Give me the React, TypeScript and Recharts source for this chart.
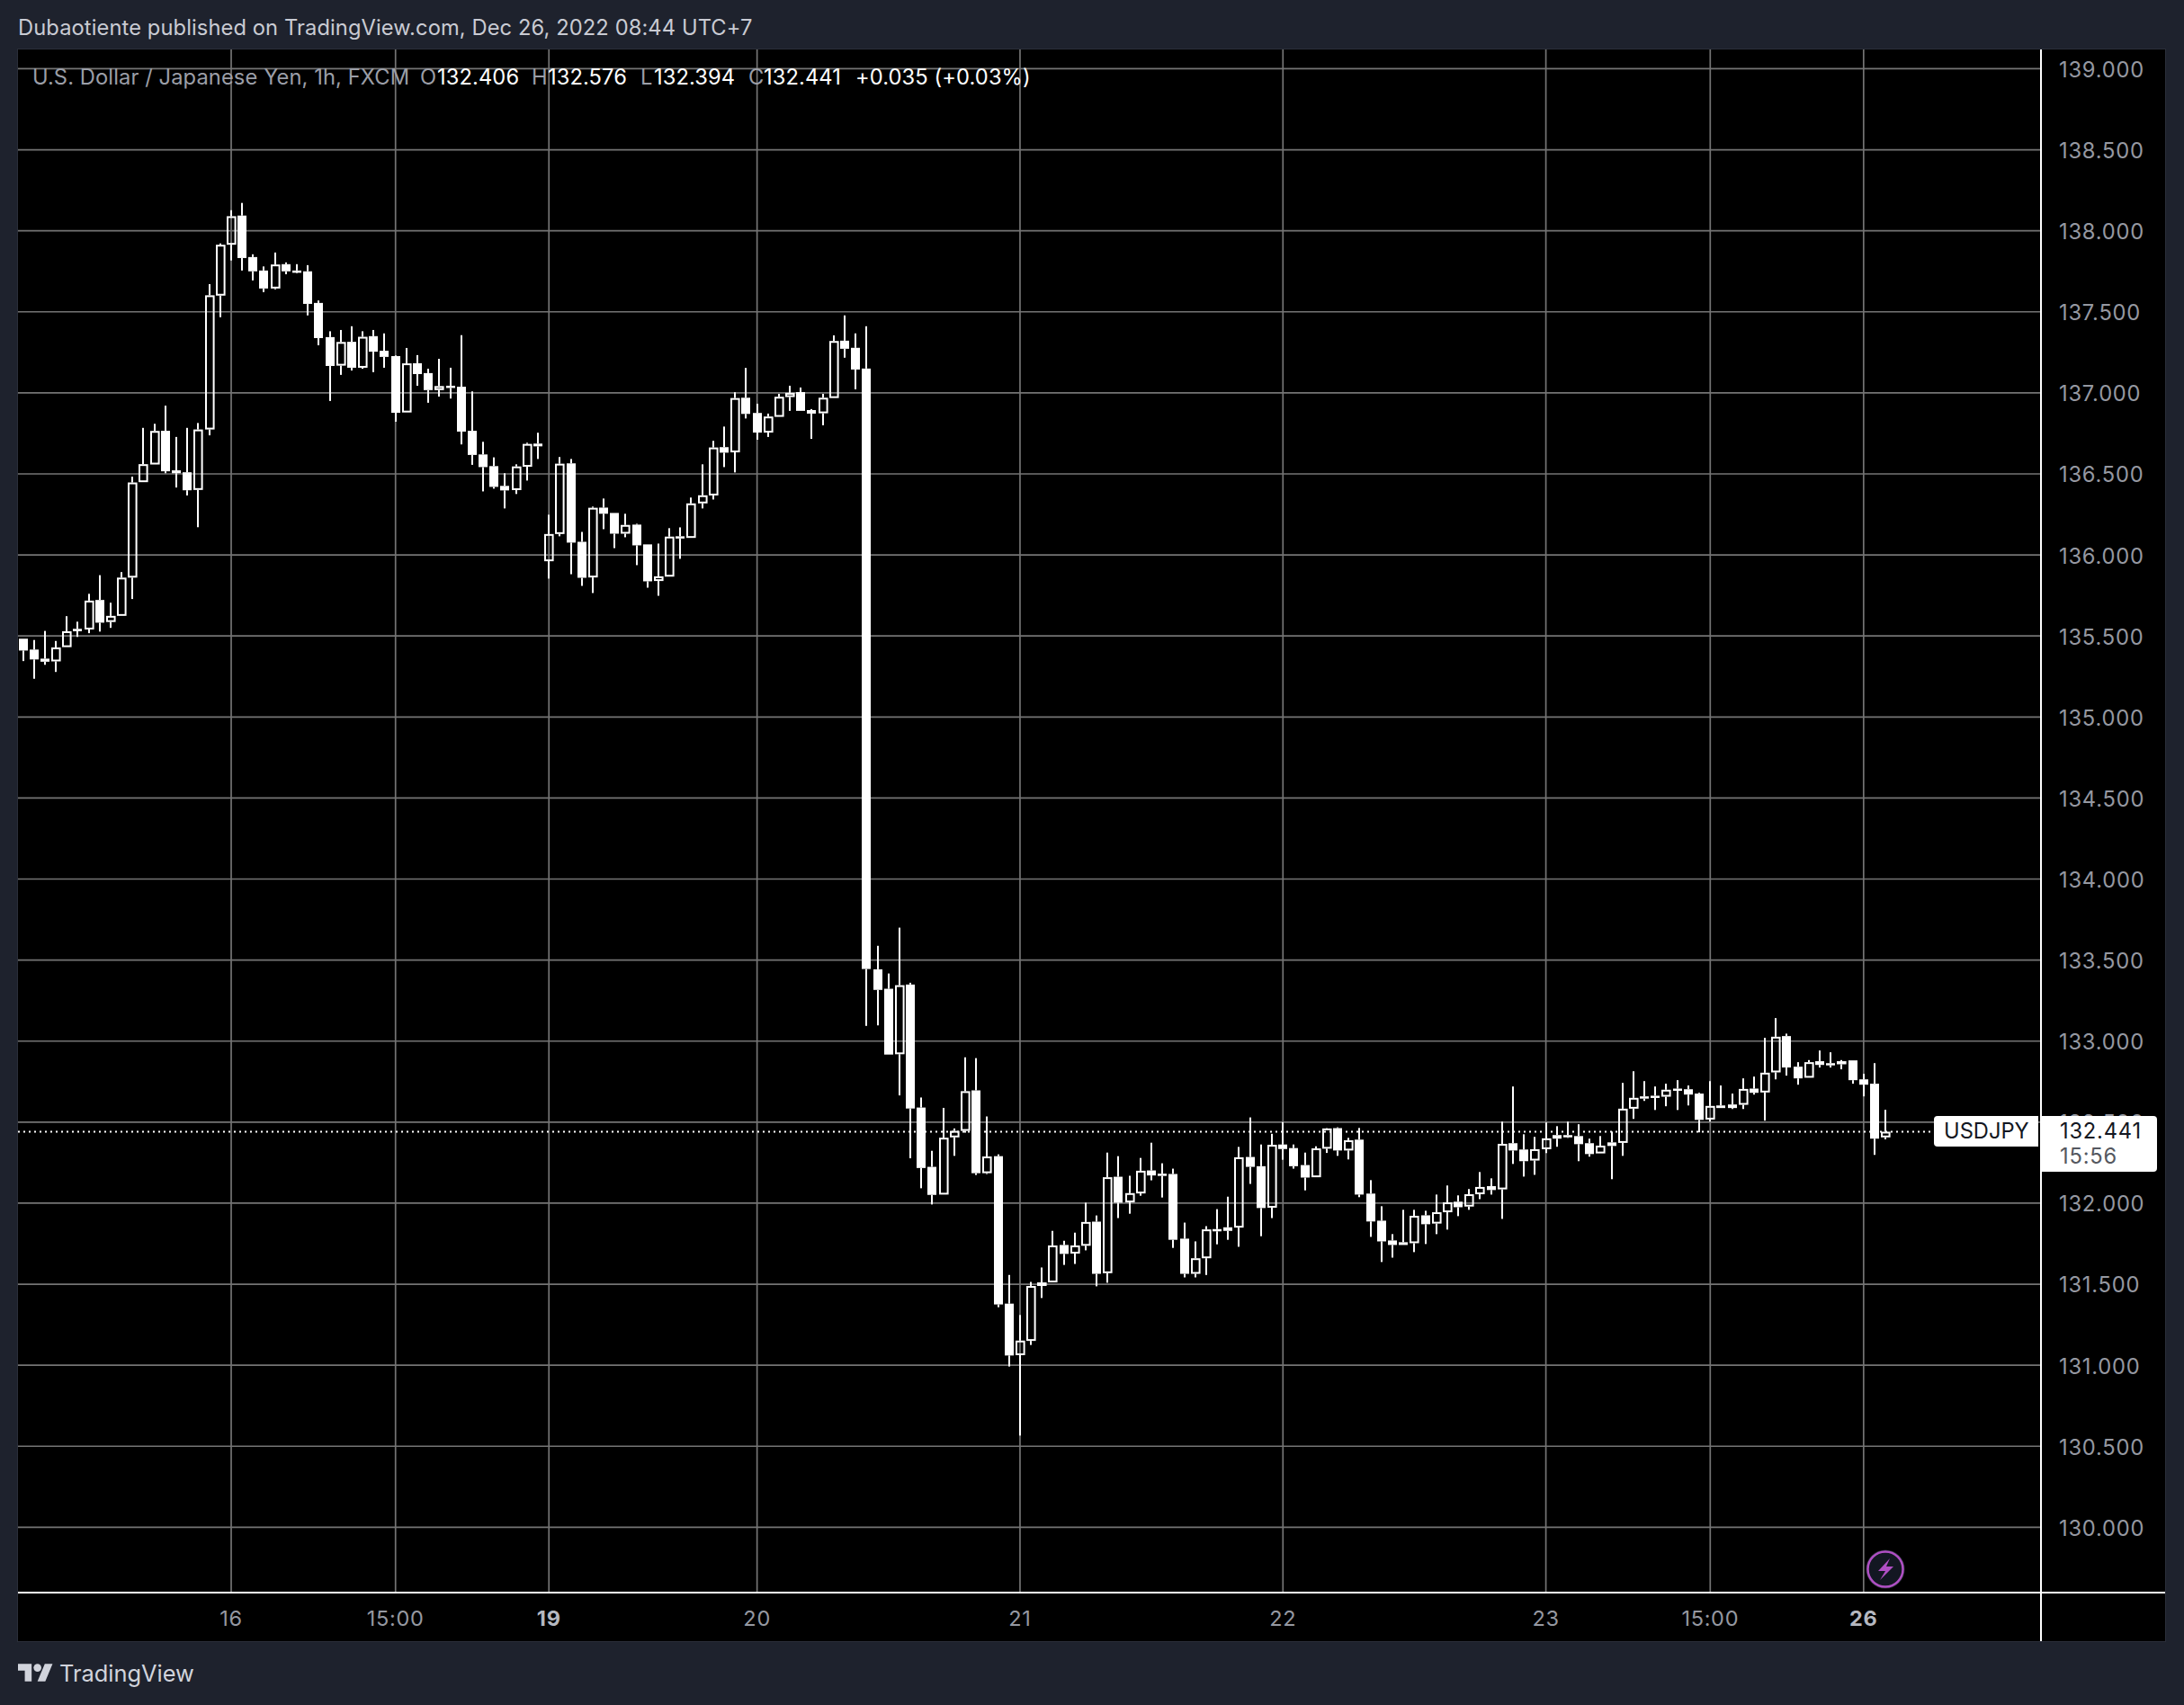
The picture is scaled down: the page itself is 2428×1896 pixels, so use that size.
import React from 'react';
import { ComposedChart, Bar, XAxis, YAxis, CartesianGrid, ReferenceLine } from 'recharts';

const opens = [
135.483,135.416,135.360,135.343,135.431,135.544,135.540,135.722,135.586,135.624,
135.860,136.449,136.558,136.766,136.522,136.510,136.401,136.774,137.600,137.914,
138.094,137.838,137.755,137.644,137.794,137.755,137.750,137.555,137.344,137.168,
137.315,137.155,137.350,137.260,137.227,136.879,137.183,137.122,137.017,137.044,
137.038,136.766,136.620,136.548,136.426,136.400,136.544,136.687,135.961,136.129,
136.565,136.081,135.861,136.292,136.259,136.131,136.187,136.065,135.839,135.866,
136.115,136.105,136.318,136.367,136.665,136.633,136.970,136.876,136.755,136.852,
136.974,137.005,136.894,136.874,136.968,137.322,137.278,137.150,133.443,133.323,
132.919,133.349,132.590,132.224,132.053,132.406,132.446,132.696,132.185,132.290,
131.380,131.062,131.150,131.489,131.511,131.742,131.689,131.737,131.886,131.568,
132.163,132.005,132.060,132.202,132.182,132.180,131.781,131.564,131.660,131.840,
131.851,131.849,132.285,132.228,131.972,132.362,132.340,132.235,132.160,132.336,
132.463,132.325,132.392,132.059,131.892,131.770,131.759,131.753,131.925,131.874,
131.944,132.009,131.979,132.055,132.105,132.085,132.370,132.331,132.263,132.333,
132.420,132.420,132.414,132.370,132.307,132.375,132.372,132.583,132.659,132.663,
132.657,132.707,132.703,132.676,132.516,132.603,132.609,132.607,132.707,132.683,
132.807,133.031,132.842,132.774,132.876,132.864,132.857,132.881,132.764,132.737,132.406];

const closes = [
135.410,135.355,135.341,135.429,135.529,135.529,135.718,135.582,135.624,135.860,
136.447,136.560,136.765,136.516,136.504,136.399,136.774,137.602,137.914,138.090,
137.832,137.750,137.644,137.792,137.750,137.744,137.549,137.338,137.166,137.314,
137.155,137.346,137.254,137.222,136.877,137.182,137.116,137.017,137.042,137.034,
136.761,136.617,136.542,136.420,136.398,136.546,136.685,136.670,136.129,136.563,
136.076,135.859,136.291,136.254,136.131,136.185,136.059,135.837,135.868,136.113,
136.104,136.318,136.368,136.663,136.631,136.968,136.870,136.755,136.854,136.976,
137.000,136.889,136.872,136.970,137.320,137.272,137.144,133.445,133.316,132.917,
133.345,132.584,132.217,132.051,132.404,132.446,132.691,132.185,132.288,131.375,
131.060,131.152,131.489,131.511,131.739,131.687,131.739,131.884,131.564,132.160,
132.003,132.062,132.200,132.171,132.171,131.774,131.564,131.660,131.838,131.829,
131.829,132.283,132.224,131.970,132.360,132.334,132.228,132.158,132.338,132.461,
132.325,132.388,132.053,131.887,131.764,131.742,131.742,131.922,131.870,131.944,
132.005,131.975,132.055,132.100,132.081,132.366,132.325,132.259,132.333,132.400,
132.398,132.409,132.364,132.303,132.355,132.353,132.583,132.650,132.648,132.651,
132.700,132.696,132.670,132.514,132.600,132.587,132.587,132.705,132.681,132.805,
133.027,132.837,132.770,132.870,132.853,132.853,132.876,132.759,132.731,132.398,132.441];

const highs = [
135.483,135.475,135.531,135.469,135.622,135.588,135.760,135.875,135.705,135.894,
136.483,136.784,136.809,136.921,136.728,136.784,136.814,137.671,137.922,138.127,
138.172,137.855,137.780,137.866,137.805,137.794,137.788,137.570,137.380,137.388,
137.411,137.380,137.388,137.367,137.231,137.277,137.233,137.149,137.210,137.155,
137.356,137.009,136.698,136.602,136.504,136.559,136.692,136.754,136.248,136.604,
136.592,136.142,136.298,136.348,136.259,136.254,136.192,136.065,136.070,136.165,
136.170,136.354,136.559,136.704,136.792,137.004,137.154,136.933,136.872,136.994,
137.044,137.033,136.900,136.994,137.355,137.478,137.367,137.411,133.588,133.417,
133.700,133.360,132.652,132.323,132.588,132.461,132.900,132.895,132.535,132.301,
131.557,131.310,131.514,131.603,131.829,131.768,131.818,132.003,131.924,132.312,
132.290,132.169,132.279,132.373,132.246,132.213,131.880,131.764,131.858,131.963,
132.040,132.347,132.529,132.362,132.428,132.500,132.362,132.312,132.351,132.463,
132.468,132.403,132.464,132.142,131.981,131.809,131.959,131.959,131.953,132.053,
132.109,132.048,132.087,132.192,132.153,132.503,132.720,132.425,132.409,132.498,
132.475,132.503,132.487,132.398,132.414,132.442,132.742,132.814,132.753,132.720,
132.737,132.759,132.726,132.681,132.753,132.726,132.676,132.770,132.781,133.020,
133.142,133.046,132.870,132.883,132.942,132.931,132.883,132.881,132.798,132.864,132.576];

const lows = [
135.345,135.236,135.322,135.278,135.431,135.494,135.517,135.527,135.550,135.624,
135.728,136.449,136.558,136.504,136.416,136.367,136.171,136.738,137.467,137.817,
137.755,137.694,137.622,137.639,137.732,137.738,137.478,137.294,136.950,137.111,
137.138,137.149,137.128,137.155,136.822,136.879,137.044,136.939,136.977,136.965,
136.682,136.556,136.392,136.409,136.287,136.376,136.459,136.592,135.854,136.115,
135.881,135.809,135.765,136.159,136.042,136.109,135.937,135.798,135.748,135.866,
135.976,136.105,136.287,136.342,136.542,136.509,136.842,136.711,136.728,136.852,
136.889,136.889,136.716,136.800,136.968,137.217,137.022,133.094,133.097,132.917,
132.665,132.277,132.092,131.992,132.053,132.292,132.435,132.174,132.180,131.358,
130.992,130.566,131.125,131.415,131.511,131.619,131.625,131.709,131.487,131.509,
131.908,131.935,132.046,132.141,132.035,131.724,131.542,131.542,131.557,131.746,
131.774,131.731,132.119,131.796,131.908,132.268,132.213,132.079,132.160,132.310,
132.292,132.270,132.037,131.792,131.637,131.664,131.742,131.698,131.748,131.809,
131.837,131.920,131.959,132.025,132.053,131.903,132.242,132.164,132.175,132.309,
132.348,132.403,132.259,132.287,132.307,132.148,132.292,132.520,132.631,132.575,
132.598,132.575,132.603,132.437,132.503,132.587,132.581,132.581,132.670,132.509,
132.764,132.787,132.731,132.774,132.837,132.837,132.826,132.737,132.659,132.298,132.394];

const priceTicks = [130,130.5,131,131.5,132,132.5,133,133.5,134,134.5,135,135.5,136,136.5,137,137.5,138,138.5,139];
const timeTickBars = [19,34,48,67,91,115,139,154,168];
const timeTickLabels = ['16','15:00','19','20','21','22','23','15:00','26'];
const timeTickBold = ['19','26'];
const lastPrice = 132.441;

const candles = opens.map((open, i) => ({ i, open, close: closes[i], high: highs[i], low: lows[i] }));

const FONT = 'Inter, "Noto Sans", sans-serif';
const W = 2428, H = 1896;

function Candle(props: any) {
  const { x, y, width, height, payload } = props;
  const k = height / (payload.high - payload.low);
  const yOf = (p: number) => y + (payload.high - p) * k;
  const cx = Math.round(x + width / 2);
  const top = Math.max(payload.open, payload.close);
  const bot = Math.min(payload.open, payload.close);
  const yTop = yOf(top);
  const yBot = yOf(bot);
  const up = payload.close > payload.open;
  const bodyH = Math.max(yBot - yTop, 2.5);
  return (
    <g>
      <rect x={cx - 1} y={y} width={2} height={Math.max(yTop - y, 0)} fill="#fff" />
      <rect x={cx - 1} y={yTop + bodyH} width={2} height={Math.max(y + height - yTop - bodyH, 0)} fill="#fff" />
      {up ? (
        <rect x={cx - 4} y={yTop + 1} width={8.6} height={Math.max(bodyH - 2, 0.5)} fill="none" stroke="#fff" strokeWidth={2} />
      ) : (
        <rect x={cx - 5} y={yTop} width={10} height={bodyH} fill="#fff" />
      )}
    </g>
  );
}

function TimeTick(props: any) {
  const { x, y, payload } = props;
  const label = timeTickLabels[timeTickBars.indexOf(payload.value)];
  const bold = timeTickBold.includes(label);
  return (
    <text x={x} y={y + 28} textAnchor="middle" dominantBaseline="central" fontFamily={FONT} fontSize={23.5}
      fontWeight={bold ? 700 : 400} fill={bold ? '#b5b8c0' : '#9598a1'} letterSpacing={0.7}>{label}</text>
  );
}

const abs = (l: number, t: number, extra: any = {}): any => ({ position: 'absolute', left: l, top: t, whiteSpace: 'pre', fontFamily: FONT, ...extra });
const LEG = { fontSize: 23.7, lineHeight: '30px', letterSpacing: 0.1 };
const dim = '#9b9ea7';

export default function App() {
  return (
    <div style={{ position: 'absolute', left: 0, top: 0, width: W, height: H, background: '#1e222d', overflow: 'hidden' }}>
      <style>{'body{margin:0;background:#1e222d}'}</style>
      <div style={{ position: 'absolute', left: 19, top: 54, width: 2389, height: 1772, background: '#000', border: '1px solid #2a2e39', boxSizing: 'border-box' }} />
      <div style={{ position: 'absolute', left: 0, top: 0 }}>
        <ComposedChart width={W} height={H} data={candles} margin={{ left: 20, top: 55, right: 21, bottom: 71 }} barSize={10}>
          <CartesianGrid stroke="#747474" strokeWidth={1.7} horizontalValues={priceTicks} verticalValues={timeTickBars} />
          <XAxis dataKey="i" type="number" scale="linear" domain={[-0.46, 184.19]} allowDataOverflow ticks={timeTickBars}
            interval={0} height={54} axisLine={false} tickLine={false} tickSize={0} tickMargin={0} tick={<TimeTick />} />
          <YAxis orientation="right" type="number" domain={[129.597, 139.119]} allowDataOverflow ticks={priceTicks}
            interval={0} width={138} axisLine={false} tickLine={false} tickSize={0} tickMargin={20}
            tickFormatter={(v: number) => v.toFixed(3)} dy={1}
            tick={{ fill: '#9598a1', fontSize: 23.7, fontFamily: FONT, letterSpacing: 0.8 }} />
          <ReferenceLine segment={[{ x: -0.46, y: lastPrice }, { x: 174.3, y: lastPrice }]} stroke="#fff" strokeWidth={2} strokeDasharray="2 4" />
          <Bar dataKey={(d: any) => [d.low, d.high]} shape={<Candle />} isAnimationActive={false} />
        </ComposedChart>
      </div>

      <div style={{ position: 'absolute', left: 20, top: 1770, width: 2387, height: 2, background: '#fff' }} />
      <div style={{ position: 'absolute', left: 2268, top: 55, width: 2, height: 1770, background: '#fff' }} />

      <div style={abs(20, 16, { fontSize: 23.7, lineHeight: '30px', color: '#c9cbd3', letterSpacing: 0.1 })}>Dubaotiente published on TradingView.com, Dec 26, 2022 08:44 UTC+7</div>

      <div style={abs(36, 71, { ...LEG, color: dim })}>U.S. Dollar / Japanese Yen, 1h, FXCM</div>
      <div style={abs(467, 71, { ...LEG, color: dim })}>O</div>
      <div style={abs(486, 71, { ...LEG, color: '#fff' })}>132.406</div>
      <div style={abs(591, 71, { ...LEG, color: dim })}>H</div>
      <div style={abs(609, 71, { ...LEG, color: '#fff' })}>132.576</div>
      <div style={abs(712, 71, { ...LEG, color: dim })}>L</div>
      <div style={abs(727, 71, { ...LEG, color: '#fff' })}>132.394</div>
      <div style={abs(832, 71, { ...LEG, color: dim })}>C</div>
      <div style={abs(849, 71, { ...LEG, color: '#fff' })}>132.441</div>
      <div style={abs(951, 71, { ...LEG, color: '#fff' })}>+0.035 (+0.03%)</div>

      <div style={{ position: 'absolute', left: 2150, top: 1241, width: 116, height: 34, background: '#fff', borderRadius: '4px 0 0 4px' }} />
      <div style={abs(2161, 1243, { fontSize: 23.7, lineHeight: '30px', color: '#131722' })}>USDJPY</div>
      <div style={{ position: 'absolute', left: 2270, top: 1241, width: 128, height: 62, background: '#fff', borderRadius: '0 4px 4px 0' }} />
      <div style={abs(2290, 1243, { fontSize: 23.7, lineHeight: '30px', color: '#131722', letterSpacing: 0.8 })}>132.441</div>
      <div style={abs(2290, 1271, { fontSize: 23.7, lineHeight: '30px', color: '#555860', letterSpacing: 0.8 })}>15:56</div>

      <svg style={{ position: 'absolute', left: 2072, top: 1721 }} width={48} height={48} viewBox="0 0 48 48">
        <circle cx={24} cy={24} r={20.5} fill="#131722" stroke="#2a2e39" strokeWidth={2} />
        <circle cx={24} cy={24} r={19.5} fill="#131722" stroke="#b04fc4" strokeWidth={2.5} />
        <path d="M29 12 L16 26 L24 26 L18 36 L33 21 L25 21 Z" fill="#b04fc4" />
      </svg>

      <svg style={{ position: 'absolute', left: 20, top: 1850 }} width={39} height={20} viewBox="0 4 36 18">
        <path d="M14 22H7V11H0V4h14v18zM28 22h-8l7.5-18h8L28 22z" fill="#d1d4dc" />
        <circle cx={20} cy={8} r={4} fill="#d1d4dc" />
      </svg>
      <div style={abs(66, 1844, { fontSize: 25.4, lineHeight: '34px', color: '#d1d4dc' })}>TradingView</div>
    </div>
  );
}
